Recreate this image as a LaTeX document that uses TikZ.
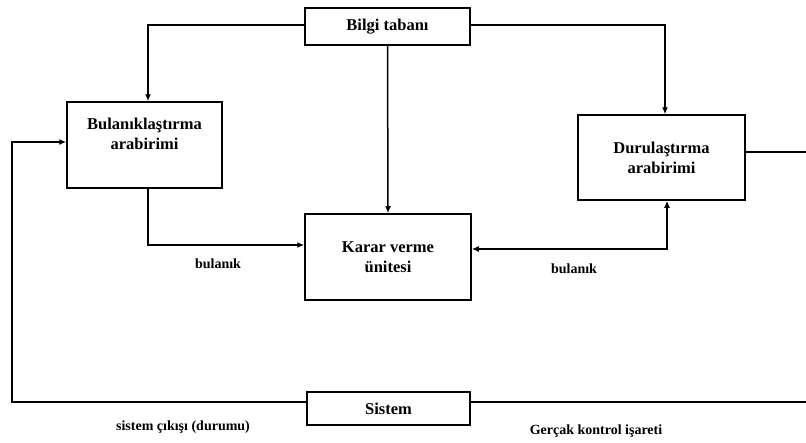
\documentclass[tikz,border=0pt]{standalone}
\usepackage{fontspec}
\setmainfont{Liberation Serif}
\usetikzlibrary{arrows.meta}
\begin{document}
\begin{tikzpicture}[x=1pt,y=-1pt,
  blk/.style={draw,line width=1.5pt,inner sep=0pt,align=center,font=\fontsize{16.5}{20}\selectfont\bfseries},
  tip/.tip={Latex[length=7pt,width=6pt]},
  conn/.style={line width=1.5pt,-tip},
  plain/.style={line width=1.5pt},
  lbl/.style={font=\fontsize{14}{16}\selectfont\bfseries}]
\useasboundingbox (0,0) rectangle (806,442);
\node[blk,minimum width=165pt,minimum height=37pt] (bilgi) at (387.5,26.5) {Bilgi tabanı};
\node[blk,minimum width=155pt,minimum height=86pt] (bul) at (144.5,145) {Bulanıklaştırma\\arabirimi\\[3pt]};
\node[blk,minimum width=167pt,minimum height=85pt] (dur) at (661.5,157.5) {Durulaştırma\\arabirimi};
\node[blk,minimum width=166pt,minimum height=86pt] (karar) at (388,257) {Karar verme\\ünitesi};
\node[blk,minimum width=163pt,minimum height=33pt] (sis) at (388.5,408.5) {Sistem};
\coordinate (durout) at (806,152);
\coordinate (sisout) at (806,402);
\coordinate (lc) at (12,402);
\draw[conn] ([yshift=1.5pt]bilgi.west) -| ([xshift=3.5pt]bul.north);
\draw[conn] ([yshift=1.5pt]bilgi.east) -| ([xshift=3.5pt]dur.north);
\draw[conn] (bilgi.south) -- (karar.north);
\draw[conn] ([xshift=3.5pt]bul.south) |- ([yshift=12pt]karar.west);
\draw[plain,tip-tip] ([yshift=8pt]karar.east) -| ([xshift=5.5pt]dur.south);
\draw[plain] ([yshift=5.5pt]dur.east) -- (durout);
\draw[plain] ([yshift=6.5pt]sis.east) -- (sisout);
\draw[conn] ([yshift=6.5pt]sis.west) -- (lc) |- ([yshift=3pt]bul.west);
\node[lbl] (l1) at (218,264) {bulanık};
\node[lbl] (l2) at (574,269) {bulanık};
\node[lbl] (l3) at (183,427) {sistem çıkışı (durumu)};
\node[lbl] (l4) at (596,431) {Gerçak kontrol işareti};
\end{tikzpicture}
\end{document}
